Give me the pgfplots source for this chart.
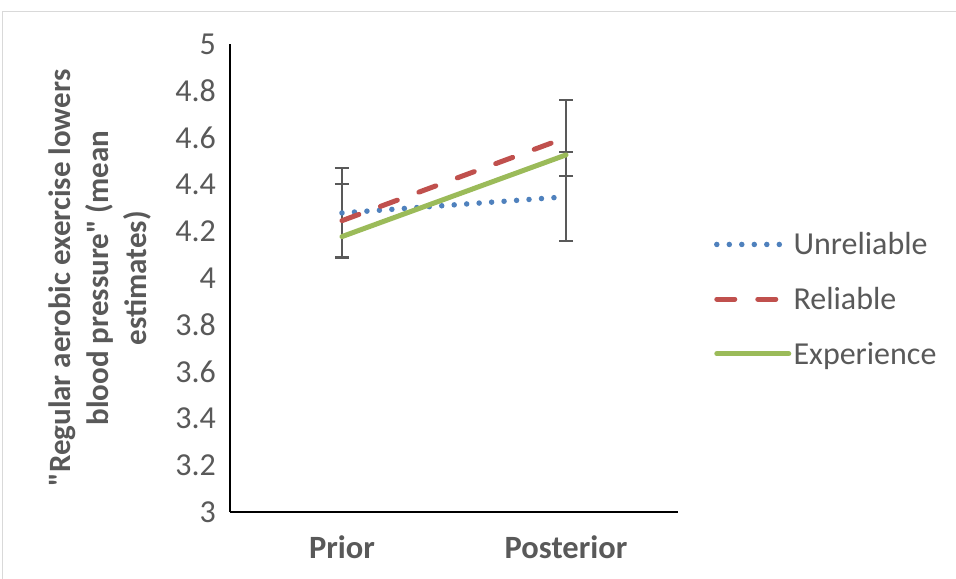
\documentclass[border=0pt]{standalone}
\usepackage{pgfplots}
\pgfplotsset{compat=1.18}
\usepackage{fontspec}
\setmainfont{Carlito}
\definecolor{txt}{HTML}{595959}
\definecolor{cblue}{HTML}{4F81BD}
\definecolor{cred}{HTML}{C0504D}
\definecolor{cgreen}{HTML}{9BBB59}
\definecolor{ebar}{HTML}{595959}
\begin{document}
\begin{tikzpicture}
\begin{axis}[
  at={(0,0)}, anchor=south west,
  scale only axis, width=448bp, height=468bp,
  xmin=-0.5, xmax=1.5, ymin=3, ymax=5,
  axis x line=bottom, axis y line=left,
  axis line style={black, line width=1.3bp, -},
  xtick={0,1}, xticklabels={Prior,Posterior},
  ytick={3,3.2,3.4,3.6,3.8,4,4.2,4.4,4.6,4.8,5},
  yticklabels={3,3.2,3.4,3.6,3.8,4,4.2,4.4,4.6,4.8,5},
  major tick length=0pt,
  xticklabel style={font=\fontsize{32.5bp}{38bp}\selectfont\bfseries, text=txt, yshift=-20bp},
  yticklabel style={font=\fontsize{32bp}{38bp}\selectfont, text=txt, inner sep=0pt, xshift=-14bp},
  ylabel={\textquotedbl Regular aerobic exercise lowers\\ blood pressure\textquotedbl{} (mean\\ estimates)},
  ylabel style={at={(axis description cs:-0.29,0.5)}, anchor=center, align=center,
    font=\fontsize{31bp}{38bp}\selectfont\bfseries, text=txt},
  legend style={draw=none, fill=none, at={(axis description cs:1.08,0.455)}, anchor=west,
    font=\fontsize{32bp}{38bp}\selectfont, text=txt, row sep=27bp, inner sep=0pt,
    cells={anchor=west}},
  legend image code/.code={\draw[#1] (0bp,0bp) -- (72bp,0bp);},
  clip=false,
]
% error bars
\addplot[draw=none, forget plot, error bars/.cd, y dir=both, y explicit,
  error bar style={ebar, line width=2bp},
  error mark options={rotate=90, ebar, line width=2bp, mark size=7bp}]
  coordinates {(0,4.278) +- (0,0.19) (1,4.347) +- (0,0.19)};
\addplot[draw=none, forget plot, error bars/.cd, y dir=both, y explicit,
  error bar style={ebar, line width=2bp},
  error mark options={rotate=90, ebar, line width=2bp, mark size=7bp}]
  coordinates {(0,4.245) +- (0,0.158) (1,4.600) +- (0,0.162)};
% lines
\addplot[cblue, line width=5.5bp, line cap=round, dash pattern=on 0pt off 12.5bp] coordinates {(0,4.278) (1,4.347)};
\addlegendentry{Unreliable}
\addplot[cred, line width=5bp, line cap=round, dash pattern=on 18bp off 23bp] coordinates {(0,4.245) (1,4.600)};
\addlegendentry{Reliable}
\addplot[cgreen, line width=5bp, line cap=round] coordinates {(0,4.177) (1,4.526)};
\addlegendentry{Experience}
\end{axis}
\draw[gray!30, line width=1bp] (-227bp,-80bp) -- (-227bp,500bp) -- (740bp,500bp);
\pgfresetboundingbox
\useasboundingbox (-230bp,-67bp) rectangle (726bp,512bp);
\end{tikzpicture}
\end{document}
